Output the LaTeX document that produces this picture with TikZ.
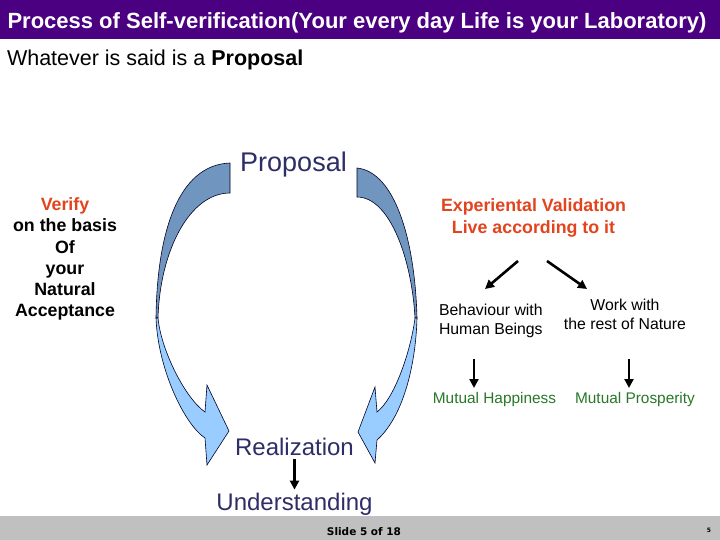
\documentclass[tikz,border=0pt]{standalone}
\usepackage{fontspec}
\setmainfont{Liberation Sans}
\newfontfamily\footfont{DejaVu Sans}
\usetikzlibrary{arrows.meta}
\definecolor{titlebg}{RGB}{75,0,130}
\definecolor{navy}{RGB}{46,46,102}
\definecolor{redor}{RGB}{226,68,30}
\definecolor{mgreen}{RGB}{40,120,40}
\definecolor{darkband}{RGB}{112,150,192}
\definecolor{lightband}{RGB}{153,204,255}
\definecolor{footgray}{RGB}{192,192,192}
\begin{document}
\begin{tikzpicture}[x=1pt,y=-1pt,
  txt/.style={inner sep=0pt, outer sep=0pt},
  blk/.style={-{Triangle[length=9pt,width=9pt]}, line width=2.6pt, black},
  band/.style={draw=black!85!blue, line width=0.6pt}]
\useasboundingbox (0,0) rectangle (720,540);
\fill[white] (0,0) rectangle (720,540);
% title bar
\fill[titlebg] (0,0) rectangle (720,39);
\node[txt, anchor=base, text=white, font=\bfseries\fontsize{22}{24}\selectfont] (title) at (357,28.5) {Process of Self-verification(Your every day Life is your Laboratory)};
\node[txt, anchor=base west, font=\fontsize{21.5}{24}\selectfont] (intro) at (7,66) {Whatever is said is a \textbf{Proposal}};
% curved arrows
\path[band, fill=darkband] (230,163) .. controls (177,165) and (157,235) .. (156,318) -- (158,318) .. controls (160,250) and (190,193) .. (230,193) -- cycle;
\path[band, fill=lightband] (156,318) .. controls (158,370) and (185,425) .. (205,438) -- (207,465) -- (229,431) -- (207,385) -- (205,412) .. controls (185,398) and (161,350) .. (158,318) -- cycle;
\path[band, fill=darkband] (357,168) .. controls (395,172) and (415,240) .. (417,318) -- (415,318) .. controls (412,260) and (390,197) .. (357,197) -- cycle;
\path[band, fill=lightband] (417,318) .. controls (416,360) and (405,415) .. (377,440) -- (375,463) -- (358,432) -- (375,387) -- (377,412) .. controls (395,398) and (411,350) .. (415,318) -- cycle;
% centre texts
\node[txt, anchor=base, text=navy, font=\fontsize{27}{30}\selectfont] (prop) at (293.5,171.5) {Proposal};
\node[txt, anchor=base, text=navy, font=\fontsize{24}{27}\selectfont] (real) at (294.5,455) {Realization};
\node[txt, anchor=base, text=navy, font=\fontsize{24}{27}\selectfont] (und) at (294.5,510) {Understanding};
\draw[blk, shorten <=4pt, shorten >=3pt] (real.south) -- (und.north);
% left block
\node[txt, anchor=base, align=center, font=\bfseries\fontsize{17.8}{21.2}\selectfont] (verify) at (65,316.7)
  {\textcolor{redor}{Verify}\\on the basis\\Of\\your\\Natural\\Acceptance};
% right block
\node[txt, anchor=base, align=center, text=redor, font=\bfseries\fontsize{17.8}{21.7}\selectfont] (exp) at (533.5,233.3)
  {Experiental Validation\\Live according to it};
\node[txt, anchor=base west, align=left, font=\fontsize{15.8}{19}\selectfont] (beh) at (439,334)
  {Behaviour with\\Human Beings};
\node[txt, anchor=base, align=center, font=\fontsize{15.8}{19}\selectfont] (work) at (625,329)
  {Work with\\the rest of Nature};
\node[txt, anchor=base, text=mgreen, font=\fontsize{15.4}{18}\selectfont] (happy) at (494.5,403.3) {Mutual Happiness};
\node[txt, anchor=base, text=mgreen, font=\fontsize{15.4}{18}\selectfont] (prosp) at (635,403.3) {Mutual Prosperity};
\coordinate (e1) at (518,261);
\coordinate (b1) at (485,289);
\coordinate (e2) at (547,261);
\coordinate (w1) at (587,289);
\coordinate (b2) at (474,359);
\coordinate (h1) at (474,388);
\coordinate (w2) at (629,359);
\coordinate (p1) at (629,388);
\draw[blk] (e1) -- (b1);
\draw[blk] (e2) -- (w1);
\draw[blk] (b2) -- (h1);
\draw[blk] (w2) -- (p1);
% footer
\fill[footgray] (0,516) rectangle (720,540);
\node[txt, anchor=base, font=\footfont\bfseries\fontsize{10.5}{12}\selectfont] (slide) at (364,535) {Slide 5 of 18};
\node[txt, anchor=base, font=\footfont\bfseries\fontsize{6}{7}\selectfont] (pnum) at (709,532) {5};
\end{tikzpicture}
\end{document}
